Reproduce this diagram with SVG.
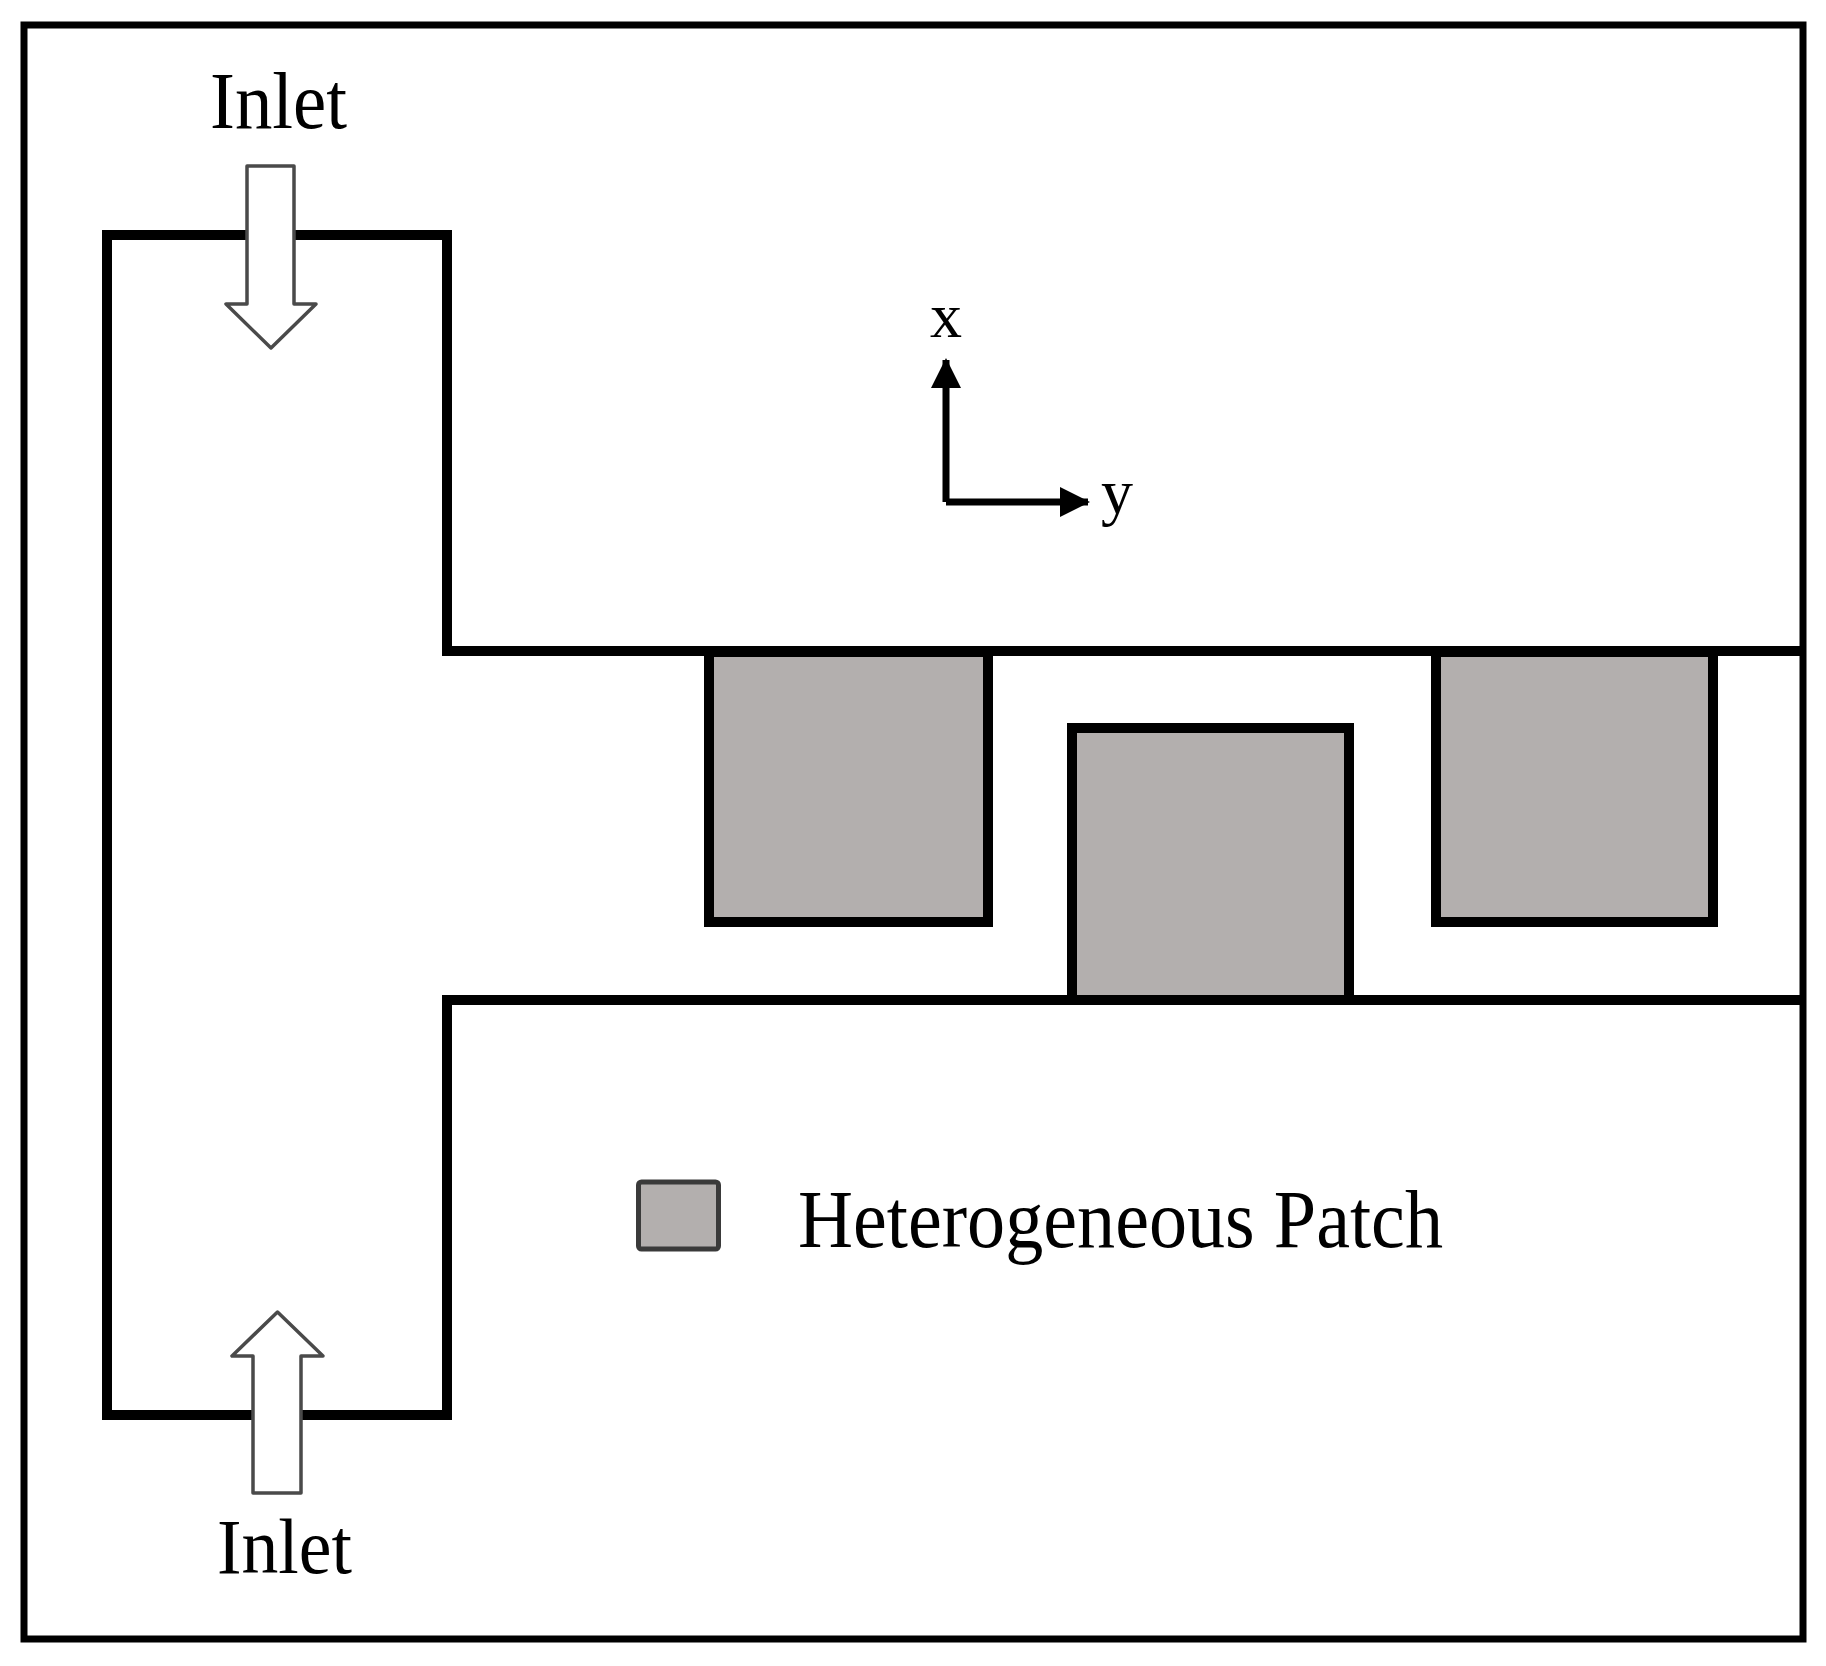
<svg xmlns="http://www.w3.org/2000/svg" width="1826" height="1666" viewBox="0 0 1826 1666">
<defs>
<style>
.wall{fill:none;stroke:#000;stroke-width:10;stroke-linejoin:miter;stroke-linecap:square}
.patch{fill:#b3afae;stroke:#000;stroke-width:10}
.flow{fill:#fff;stroke:#4a4a4a;stroke-width:3.5;stroke-linejoin:round}
.lbl{font-family:"Liberation Serif","Times New Roman",serif;fill:#000}
.axis{fill:none;stroke:#000;stroke-width:7;stroke-linejoin:round}
</style>
<marker id="ah" viewBox="0 0 30 30" refX="28" refY="15" markerWidth="30" markerHeight="30" markerUnits="userSpaceOnUse" orient="auto">
<path d="M0,0 L30,15 L0,30 Z" fill="#000"/>
</marker>
</defs>
<rect x="0" y="0" width="1826" height="1666" fill="#fff"/>
<g id="frame">
<rect x="24" y="25" width="1779" height="1614" fill="none" stroke="#000" stroke-width="7"/>
</g>
<g id="patch1"><rect class="patch" x="709" y="652" width="279" height="270"/></g>
<g id="patch2"><rect class="patch" x="1072" y="728" width="277" height="272"/></g>
<g id="patch3"><rect class="patch" x="1436" y="652" width="277" height="270"/></g>
<g id="channel">
<path class="wall" d="M1800,651 H447 V235 H107 V1415 H447 V1000 H1800"/>
</g>
<g id="connectors">
<path id="inlet-top-arrow" class="flow" d="M247,166 H294 V304 H316 L271,348 L226,304 H247 Z"/>
<path id="inlet-bottom-arrow" class="flow" d="M253,1493 H301 V1356 H323 L277.5,1312 L232,1356 H253 Z"/>
<path id="axis-x" class="axis" d="M946,502 V360" marker-end="url(#ah)"/>
<path id="axis-y" class="axis" d="M946,502 H1088" marker-end="url(#ah)"/>
</g>
<g id="label-inlet-top"><text class="lbl" x="210" y="128" font-size="80" textLength="137" lengthAdjust="spacingAndGlyphs">Inlet</text></g>
<g id="label-inlet-bottom"><text class="lbl" x="217" y="1573" font-size="78" textLength="135" lengthAdjust="spacingAndGlyphs">Inlet</text></g>
<g id="label-x"><text class="lbl" x="946" y="337" font-size="64" text-anchor="middle">x</text></g>
<g id="label-y"><text class="lbl" x="1101" y="513" font-size="64">y</text></g>
<g id="legend">
<rect x="638.5" y="1182" width="80" height="67" rx="3" fill="#b3afae" stroke="#3a3a3a" stroke-width="5"/>
<text class="lbl" x="798" y="1247" font-size="82" textLength="645" lengthAdjust="spacingAndGlyphs">Heterogeneous Patch</text>
</g>
</svg>
